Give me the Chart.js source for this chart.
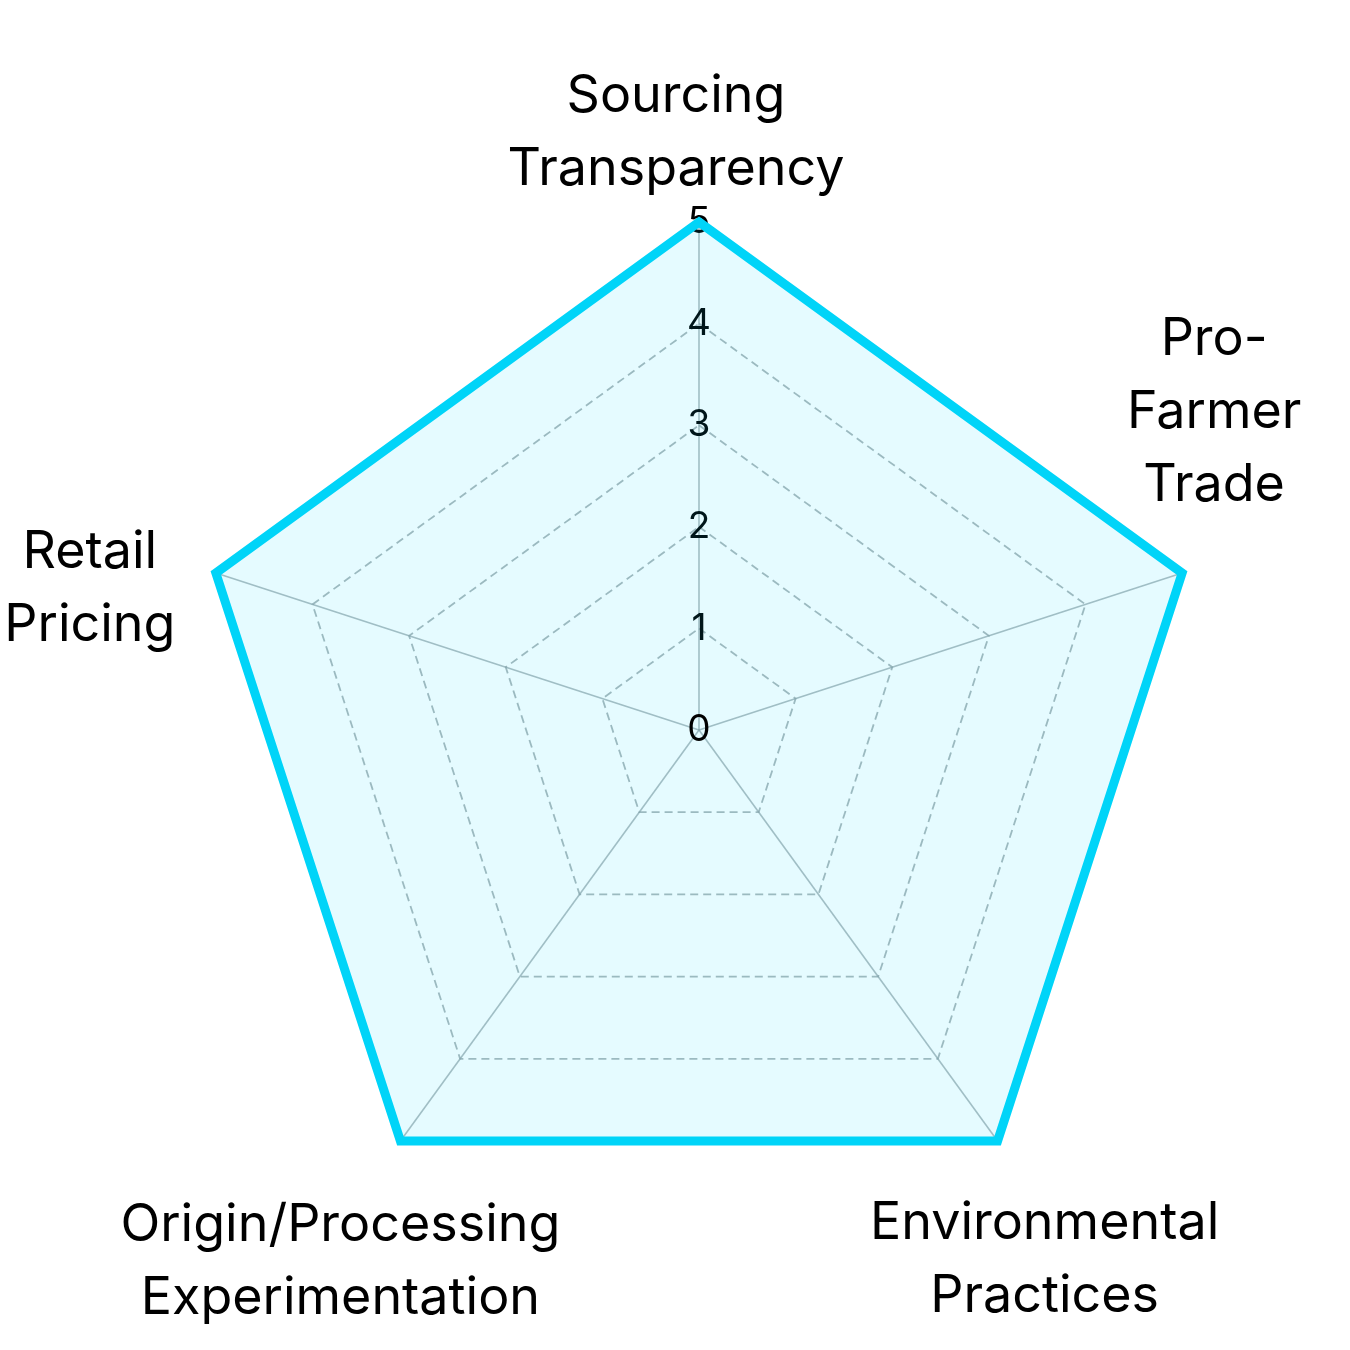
<!DOCTYPE html>
<html>
<head>
<meta charset="utf-8">
<script src="https://cdn.jsdelivr.net/npm/chart.js@4.4.1/dist/chart.umd.min.js"></script>
<style>
  html, body { margin: 0; padding: 0; background: #fff; }
  #wrap { width: 1350px; height: 1350px; }
</style>
</head>
<body>
<div id="wrap"><canvas id="myChart"></canvas></div>
<script>
// categories (multi-line labels) and scores
const categories = [
  ["Sourcing", "Transparency"],
  ["Pro-", "Farmer", "Trade"],
  ["Environmental", "Practices"],
  ["Origin/Processing", "Experimentation"],
  ["Retail", "Pricing"]
];
const scores = [5, 5, 5, 5, 5];
const tickValues = [0, 1, 2, 3, 4, 5];

// label placement relative to each outer vertex: [dx of block centre, dy of first baseline]
const labelNudge = [[-23, -110], [32, -218], [47, 98], [-60, 100], [-126, -5]];

// draws the axis labels with centred lines, plus the "0" tick chart.js skips
const labelPlugin = {
  id: 'centredLabels',
  afterDraw(chart) {
    const scale = chart.scales.r;
    const ctx = chart.ctx;
    ctx.save();
    ctx.fillStyle = '#000';
    ctx.textAlign = 'center';
    ctx.textBaseline = 'alphabetic';
    ctx.font = '52px Inter';
    categories.forEach((lines, i) => {
      const p = scale.getPointPosition(i, scale.drawingArea);
      lines.forEach((line, j) => {
        ctx.fillText(line, p.x + labelNudge[i][0], p.y + labelNudge[i][1] + j * 73);
      });
    });
    ctx.font = '37px Inter';
    ctx.textBaseline = 'middle';
    const z = scale.getPointPosition(0, scale.getDistanceFromCenterForValue(tickValues[0]));
    ctx.fillText(String(tickValues[0]), z.x, z.y);
    ctx.restore();
  }
};

const myChartRef = document.getElementById('myChart').getContext('2d');
new Chart(myChartRef, {
  type: 'radar',
  data: {
    labels: categories,
    datasets: [{
      data: scores,
      borderColor: '#00d4f8',
      backgroundColor: 'rgba(0, 212, 255, 0.1)',
      borderWidth: 9,
      pointRadius: 0,
      fill: true
    }]
  },
  options: {
    responsive: true,
    maintainAspectRatio: false,
    animation: false,
    layout: { padding: { left: 172, right: 124, top: 194, bottom: 84 } },
    plugins: { legend: { display: false }, tooltip: { enabled: false } },
    scales: {
      r: {
        min: 0,
        max: 5,
        ticks: {
          stepSize: 1,
          color: '#000',
          font: { family: 'Inter', size: 37 },
          showLabelBackdrop: false,
          backdropPadding: 0
        },
        pointLabels: { display: false },
        grid: { color: 'rgba(145, 158, 162, 0.75)', lineWidth: 1.8 },
        border: { dash: [8, 5] },
        angleLines: { color: 'rgba(145, 158, 162, 0.7)', lineWidth: 1.6 }
      }
    }
  },
  plugins: [labelPlugin]
});
</script>
</body>
</html>
